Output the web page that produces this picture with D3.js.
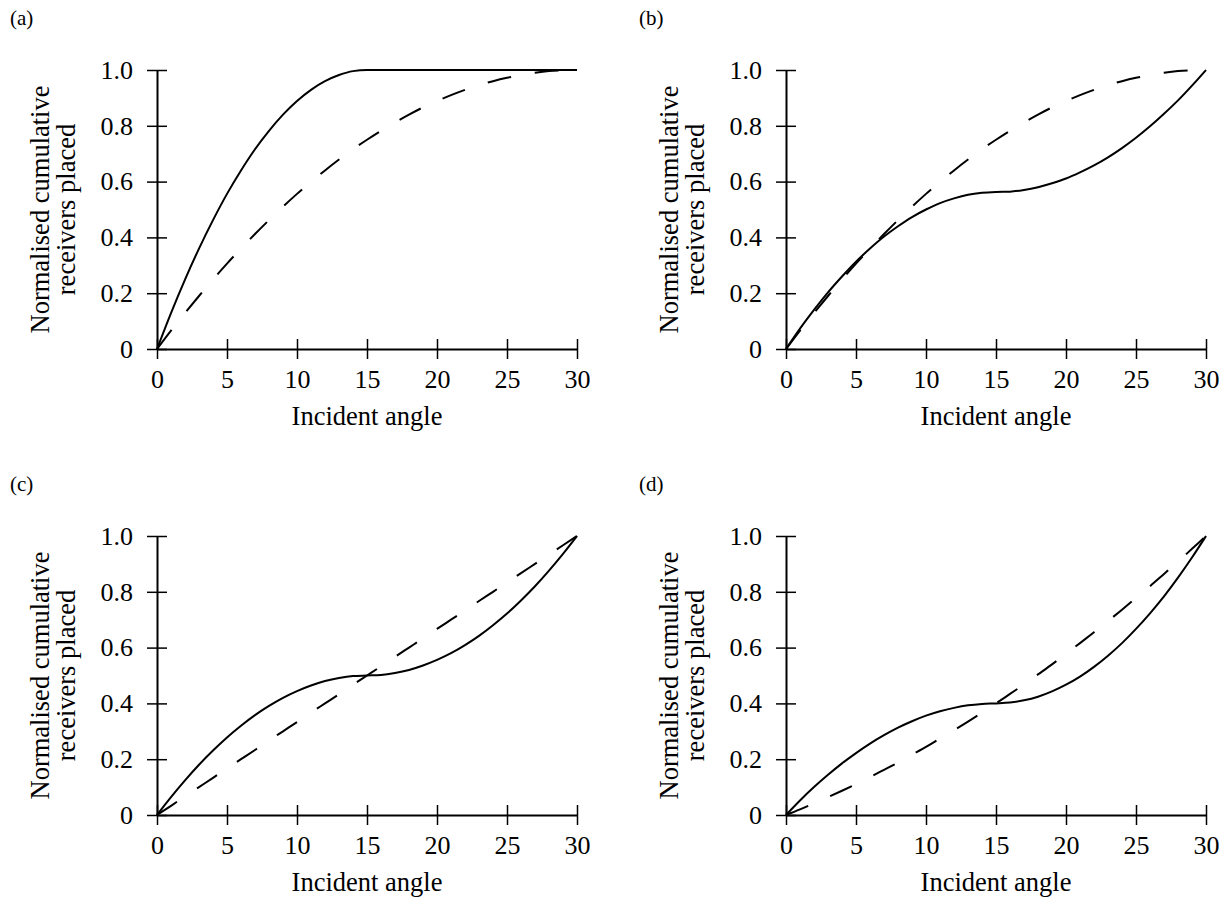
<!DOCTYPE html>
<html>
<head>
<meta charset="utf-8">
<script src="https://cdn.jsdelivr.net/npm/d3@7"></script>
<style>
  body { margin: 0; background: #fff; }
  text { font-family: "Liberation Serif", "Times New Roman", serif; fill: #000; }
  .axis path, .axis line { stroke: #000; }
</style>
</head>
<body>
<svg class="chart"></svg>
<script>
// incident angle samples (degrees)
var angles = d3.range(0, 31);

var xTicks = [0, 5, 10, 15, 20, 25, 30];
var yTicks = [0, 0.2, 0.4, 0.6, 0.8, 1.0];

// values, one per angle
var solidA = [0, 0.129, 0.249, 0.36, 0.462, 0.556, 0.64, 0.716, 0.782, 0.84, 0.889, 0.929, 0.96, 0.982, 0.996, 1,
              1, 1, 1, 1, 1, 1, 1, 1, 1, 1, 1, 1, 1, 1, 1];
var dashedA = [0, 0.066, 0.129, 0.19, 0.249, 0.306, 0.36, 0.412, 0.462, 0.51, 0.556, 0.599, 0.64, 0.679, 0.716, 0.75,
               0.782, 0.812, 0.84, 0.866, 0.889, 0.91, 0.929, 0.946, 0.96, 0.972, 0.982, 0.99, 0.996, 0.999, 1];

var solidB = [0, 0.073, 0.14, 0.203, 0.26, 0.313, 0.36, 0.403, 0.44, 0.473, 0.5, 0.523, 0.54, 0.553, 0.56, 0.563,
              0.564, 0.57, 0.58, 0.594, 0.611, 0.633, 0.658, 0.687, 0.72, 0.757, 0.798, 0.843, 0.891, 0.944, 1];
var dashedB = [0, 0.066, 0.129, 0.19, 0.249, 0.306, 0.36, 0.412, 0.462, 0.51, 0.556, 0.599, 0.64, 0.679, 0.716, 0.75,
               0.782, 0.812, 0.84, 0.866, 0.889, 0.91, 0.929, 0.946, 0.96, 0.972, 0.982, 0.99, 0.996, 0.999, 1];

var solidC = [0, 0.064, 0.124, 0.18, 0.231, 0.278, 0.32, 0.358, 0.391, 0.42, 0.444, 0.464, 0.48, 0.491, 0.498, 0.5,
              0.502, 0.509, 0.52, 0.536, 0.556, 0.58, 0.609, 0.642, 0.68, 0.722, 0.769, 0.82, 0.876, 0.936, 1];
var dashedC = [0, 0.033, 0.067, 0.1, 0.133, 0.167, 0.2, 0.233, 0.267, 0.3, 0.333, 0.367, 0.4, 0.433, 0.467, 0.5,
               0.533, 0.567, 0.6, 0.633, 0.667, 0.7, 0.733, 0.767, 0.8, 0.833, 0.867, 0.9, 0.933, 0.967, 1];

var solidD = [0, 0.052, 0.1, 0.144, 0.185, 0.222, 0.256, 0.286, 0.313, 0.336, 0.356, 0.372, 0.384, 0.393, 0.398, 0.4,
              0.403, 0.411, 0.424, 0.443, 0.467, 0.496, 0.531, 0.571, 0.616, 0.667, 0.723, 0.784, 0.851, 0.923, 1];
var dashedD = [0, 0.02, 0.042, 0.064, 0.087, 0.111, 0.136, 0.162, 0.188, 0.216, 0.244, 0.274, 0.304, 0.335, 0.367, 0.4,
               0.434, 0.468, 0.504, 0.54, 0.578, 0.616, 0.655, 0.695, 0.736, 0.778, 0.82, 0.864, 0.908, 0.954, 1];

var panelLabels = ['(a)', '(b)', '(c)', '(d)'];
var solids = [solidA, solidB, solidC, solidD];
var dasheds = [dashedA, dashedB, dashedC, dashedD];

var W = 1230, H = 898;
var plotW = 420, plotH = 279;
// top-left corner of each plot area
var origins = [[157, 70], [786, 70], [157, 536], [786, 536]];

var svg = d3.select(".chart")
    .attr("width", W)
    .attr("height", H);

svg.append("rect").attr("width", W).attr("height", H).attr("fill", "#fff");

var x = d3.scaleLinear().domain([0, 30]).range([0, plotW]);
var y = d3.scaleLinear().domain([0, 1]).range([plotH, 0]);

var yFmt = function(d) { return d === 0 ? "0" : d3.format(".1f")(d); };

var line = d3.line()
    .x(function(d, i) { return x(angles[i]); })
    .y(function(d) { return y(d); })
    .curve(d3.curveMonotoneX);

panelLabels.forEach(function(lab, p) {
  var ox = origins[p][0], oy = origins[p][1];

  svg.append("text")
      .attr("x", ox - 147)
      .attr("y", oy - 45)
      .style("font-size", "21px")
      .text(lab);

  var g = svg.append("g")
      .attr("transform", "translate(" + ox + "," + oy + ")");

  var ya = g.append("g")
      .attr("class", "axis")
      .call(d3.axisLeft(y).tickValues(yTicks).tickFormat(yFmt)
          .tickSizeInner(10).tickSizeOuter(0).tickPadding(14));
  ya.selectAll("line").attr("x1", 10).attr("stroke-width", 1.5);

  var xa = g.append("g")
      .attr("class", "axis")
      .attr("transform", "translate(0," + plotH + ")")
      .call(d3.axisBottom(x).tickValues(xTicks)
          .tickSizeInner(10).tickSizeOuter(0).tickPadding(11));
  xa.selectAll("line").attr("y1", -10).attr("stroke-width", 1.5);

  g.selectAll(".axis path").attr("stroke-width", 2);
  g.selectAll(".axis text")
      .style("font-family", '"Liberation Serif", "Times New Roman", serif')
      .style("font-size", "26px");

  g.append("text")
      .attr("x", plotW / 2)
      .attr("y", plotH + 76)
      .attr("text-anchor", "middle")
      .style("font-size", "26.5px")
      .text("Incident angle");

  var yl = g.append("text")
      .attr("transform", "translate(-108," + (plotH / 2) + ") rotate(-90)")
      .attr("text-anchor", "middle")
      .style("font-size", "26.5px");
  yl.append("tspan").attr("x", 0).attr("y", 0).text("Normalised cumulative");
  yl.append("tspan").attr("x", 0).attr("y", 26).text("receivers placed");

  g.append("path")
      .datum(dasheds[p])
      .attr("fill", "none")
      .attr("stroke", "#000")
      .attr("stroke-width", 2)
      .attr("stroke-dasharray", "24,24")
      .attr("d", line);

  g.append("path")
      .datum(solids[p])
      .attr("fill", "none")
      .attr("stroke", "#000")
      .attr("stroke-width", 2)
      .attr("d", line);
});
</script>
</body>
</html>
